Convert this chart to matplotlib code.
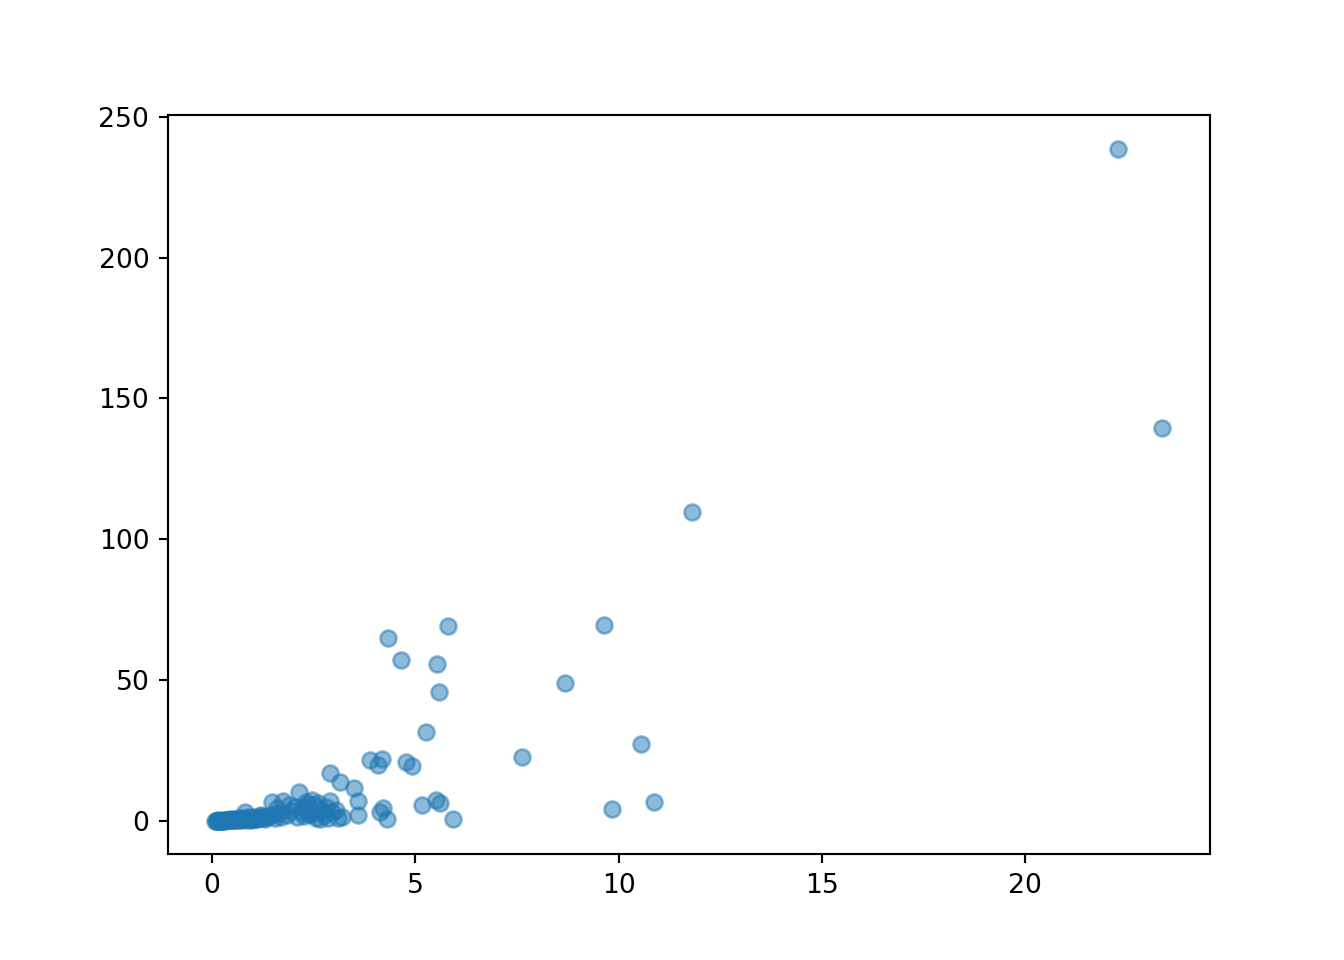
import numpy as np
import matplotlib
matplotlib.use("Agg")
import matplotlib.pyplot as plt

# values
x_far = [22.29, 23.37, 11.81, 9.64, 5.81, 4.33, 4.65, 5.54, 5.58, 8.68,
         5.26, 10.55, 7.63, 3.89, 4.18, 4.08, 4.77, 4.92, 2.90, 3.15,
         3.49, 3.59, 3.59, 2.14, 2.90, 4.21, 4.13, 4.30, 5.17, 5.51,
         5.61, 5.93, 9.84, 10.87, 3.10, 2.85]
y_far = [238.6, 139.6, 109.7, 69.6, 69.2, 65.0, 57.2, 55.8, 45.8, 49.0,
         31.6, 27.3, 22.7, 21.7, 22.0, 19.9, 21.0, 19.5, 17.0, 13.8,
         11.7, 7.1, 2.1, 10.3, 7.1, 4.6, 3.2, 0.7, 5.7, 7.5,
         6.4, 0.7, 4.3, 6.7, 1.1, 1.1]

x_mid = [1.48, 1.75, 0.81, 2.24, 2.30, 2.35, 2.20, 2.40, 2.45, 2.10,
         2.05, 1.95, 1.85, 1.60, 1.55, 1.65, 2.50, 2.60, 2.70, 2.75,
         2.80, 2.95, 3.05, 3.20, 2.25, 2.32, 2.38, 2.42, 1.90, 1.70,
         1.52, 1.40, 1.30, 1.20, 1.15, 1.10, 1.00, 0.95, 2.55, 2.65]
y_mid = [6.7, 7.1, 3.2, 5.0, 4.2, 6.0, 3.0, 2.5, 7.5, 1.5,
         4.8, 3.5, 2.0, 4.5, 1.0, 2.8, 5.5, 6.2, 3.5, 2.2,
         5.0, 3.0, 4.0, 1.5, 1.8, 6.8, 2.3, 3.8, 5.5, 1.2,
         2.5, 1.8, 0.5, 2.2, 1.0, 0.6, 1.5, 0.4, 1.0, 0.8]

x_low = [0.08, 0.10, 0.12, 0.15, 0.18, 0.20, 0.22, 0.25, 0.28, 0.30,
         0.33, 0.36, 0.40, 0.43, 0.46, 0.50, 0.55, 0.60, 0.65, 0.70,
         0.75, 0.80, 0.85, 0.90, 0.95, 1.00, 1.05, 0.15, 0.25, 0.35,
         0.45, 0.55, 0.65, 0.72, 0.88, 1.18, 1.25, 1.32]
y_low = [0.02, 0.03, 0.05, 0.04, 0.06, 0.08, 0.05, 0.10, 0.12, 0.09,
         0.15, 0.18, 0.20, 0.14, 0.25, 0.30, 0.22, 0.35, 0.40, 0.45,
         0.50, 0.55, 0.38, 0.70, 0.60, 0.80, 0.65, 0.20, 0.35, 0.40,
         0.50, 0.60, 0.90, 1.10, 1.30, 1.60, 0.90, 1.20]

x = np.array(x_far + x_mid + x_low)
y = np.array(y_far + y_mid + y_low)

fig = plt.figure(figsize=(7, 5), dpi=192)
plt.scatter(x, y, alpha=0.5)
plt.savefig("out.png", dpi=192)
